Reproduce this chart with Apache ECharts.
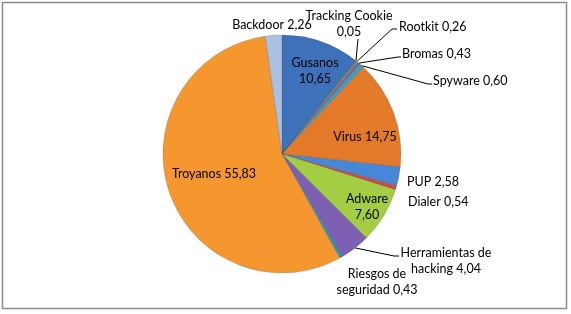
<!DOCTYPE html>
<html>
<head>
<meta charset="utf-8">
<script src="https://cdn.jsdelivr.net/npm/echarts@6/dist/echarts.min.js"></script>
<style>
html,body{margin:0;padding:0;background:#fff;}
#chart{width:571px;height:314px;}
</style>
</head>
<body>
<div id="chart"></div>
<script>
// ---- data ----
var categories = ['Gusanos', 'Tracking Cookie', 'Rootkit', 'Bromas', 'Spyware', 'Virus', 'PUP', 'Dialer', 'Adware', 'Herramientas de hacking', 'Riesgos de seguridad', 'Troyanos', 'Backdoor'];
var values = [10.65, 0.05, 0.26, 0.43, 0.60, 14.75, 2.58, 0.54, 7.60, 4.04, 0.43, 55.83, 2.26];

// ---- styles / layout (not data) ----
var colors = ['#3d72bb', '#b84a47', '#7f8a6a', '#7a6a9a', '#36a2c2', '#e27a2a', '#4688d6', '#cf4a45', '#a3cd42', '#7d5fb3', '#2f96ad', '#f6962f', '#aac1e4'];
var CX = 282, CY = 154, R = 119;
// label placement: x,y anchor, alignment, word count before line break, leader line bend points
var labelCfg = {
  'Gusanos': {x: 315, y: 71, align: 'center', wrap: 1},
  'Tracking Cookie': {x: 349, y: 24, align: 'center', wrap: 2, line: [[358, 39]]},
  'Rootkit': {x: 399, y: 27, align: 'left', line: [[392, 29], [397, 29]]},
  'Bromas': {x: 402, y: 54, align: 'left', line: [[398, 57], [401, 57]]},
  'Spyware': {x: 433, y: 81, align: 'left', line: [[428, 84], [432, 84]]},
  'Virus': {x: 365, y: 137, align: 'center'},
  'PUP': {x: 407, y: 182, align: 'left'},
  'Dialer': {x: 408, y: 202, align: 'left'},
  'Adware': {x: 367, y: 207, align: 'center', wrap: 1},
  'Herramientas de hacking': {x: 446, y: 261, align: 'center', wrap: 2, line: [[394, 256], [399, 256]]},
  'Riesgos de seguridad': {x: 377, y: 282, align: 'center', wrap: 2},
  'Troyanos': {x: 214, y: 174, align: 'center'},
  'Backdoor': {x: 272, y: 25, align: 'center'}
};

function fmt(v) { return v.toFixed(2).replace('.', ','); }
var total = values.reduce(function (a, b) { return a + b; }, 0);
function edgePoint(i) {
  var cum = 0;
  for (var k = 0; k < i; k++) cum += values[k];
  var th = (cum + values[i] / 2) / total * Math.PI * 2;
  return [CX + R * Math.sin(th), CY - R * Math.cos(th)];
}

var seriesData = categories.map(function (c, i) {
  var cfg = labelCfg[c];
  return {
    name: c,
    value: values[i],
    itemStyle: {color: colors[i]},
    labelLine: {show: !!cfg.line}
  };
});

var chart = echarts.init(document.getElementById('chart'), null, {renderer: 'canvas'});
chart.setOption({
  animation: false,
  backgroundColor: '#ffffff',
  graphic: [{
    type: 'rect',
    shape: {x: 2.5, y: 2.5, width: 564, height: 306},
    style: {fill: 'none', stroke: '#8c8c8c', lineWidth: 1.5},
    silent: true
  }],
  series: [{
    type: 'pie',
    center: [CX, CY],
    radius: R,
    startAngle: 90,
    clockwise: true,
    avoidLabelOverlap: false,
    data: seriesData,
    itemStyle: {borderColor: 'rgba(60,60,60,0.35)', borderWidth: 0.6},
    label: {
      show: true,
      position: 'outside',
      color: '#000',
      fontFamily: 'Lato',
      fontSize: 12.5,
      lineHeight: 16,
      formatter: function (p) {
        var cfg = labelCfg[p.name];
        var words = (p.name + ' ' + fmt(p.value)).split(' ');
        if (cfg.wrap) {
          return words.slice(0, cfg.wrap).join(' ') + '\n' + words.slice(cfg.wrap).join(' ');
        }
        return words.join(' ');
      }
    },
    labelLine: {show: true, lineStyle: {color: '#000', width: 1}},
    labelLayout: function (p) {
      var name = categories[p.dataIndex];
      var cfg = labelCfg[name];
      var out = {x: cfg.x, y: cfg.y, align: cfg.align, verticalAlign: 'middle'};
      if (cfg.line) {
        out.labelLinePoints = [edgePoint(p.dataIndex)].concat(cfg.line);
      }
      return out;
    }
  }]
});
</script>
</body>
</html>
